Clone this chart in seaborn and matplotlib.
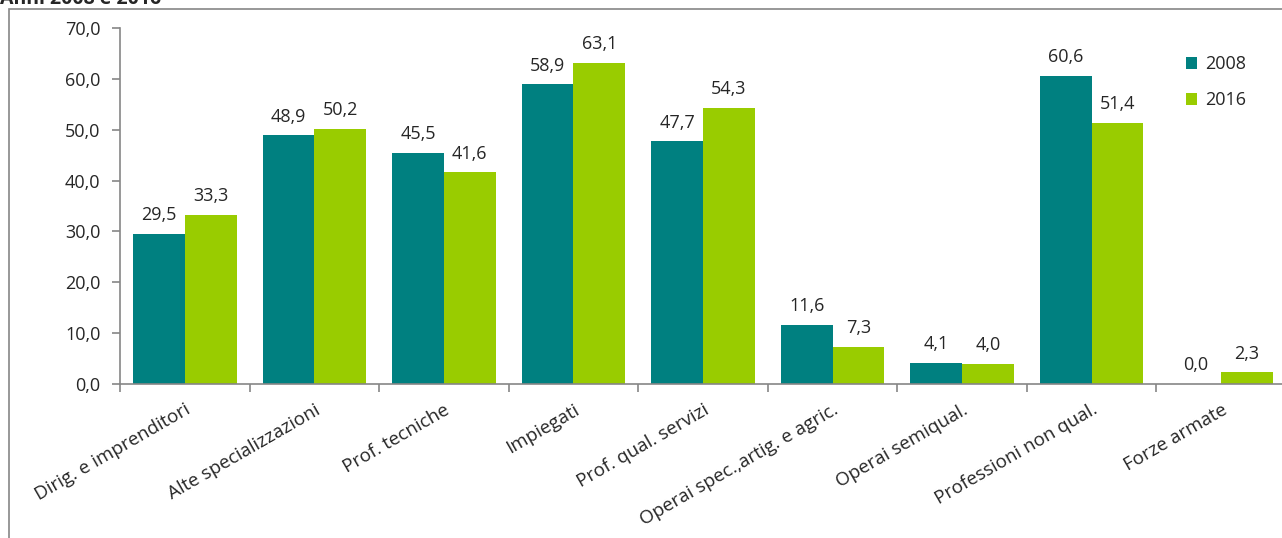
import pandas as pd
import matplotlib.pyplot as plt
import seaborn as sns
from matplotlib.patches import Rectangle

categories = ['Dirig. e imprenditori', 'Alte specializzazioni', 'Prof. tecniche', 'Impiegati',
              'Prof. qual. servizi', 'Operai spec.,artig. e agric.', 'Operai semiqual.',
              'Professioni non qual.', 'Forze armate']
years = ['2008', '2016']
vals_2008 = [29.5, 48.9, 45.5, 58.9, 47.7, 11.6, 4.1, 60.6, 0.0]
vals_2016 = [33.3, 50.2, 41.6, 63.1, 54.3, 7.3, 4.0, 51.4, 2.3]

df = pd.DataFrame({
    'cat': categories * 2,
    'anno': [years[0]] * len(categories) + [years[1]] * len(categories),
    'val': vals_2008 + vals_2016,
})

sns.set_style('white')
plt.rcParams['font.family'] = ['Open Sans', 'DejaVu Sans']

fig = plt.figure(figsize=(12.82, 5.38), dpi=100)
ax = fig.add_axes([120 / 1282, 1 - 384 / 538, 1166 / 1282, 356 / 538])

sns.barplot(data=df, x='cat', y='val', hue='anno', order=categories, hue_order=years,
            palette=['#008080', '#99CC00'], width=0.8, saturation=1, linewidth=0,
            ax=ax, legend=True)

# data labels
for cont in ax.containers:
    ax.bar_label(cont, labels=[f'{v:.1f}'.replace('.', ',') for v in cont.datavalues],
                 padding=7, fontsize=13)

ax.set_ylim(0, 70)
ax.set_xlim(-0.5, 8.5)
ax.set_yticks(range(0, 71, 10))
ax.set_yticklabels([f'{v:.1f}'.replace('.', ',') for v in range(0, 71, 10)], fontsize=13)
ax.set_xticks(range(len(categories)))
ax.set_xticklabels(categories, rotation=30, ha='right', rotation_mode='anchor', fontsize=13.5)
ax.set_xticks([i - 0.5 for i in range(len(categories) + 1)], minor=True)
ax.tick_params(axis='x', which='major', length=0, pad=12)
ax.tick_params(axis='x', which='minor', length=6, color='#868686', width=1.2, bottom=True)
ax.tick_params(axis='y', length=6, color='#868686', width=1.2, left=True, pad=8)
ax.set_xlabel('')
ax.set_ylabel('')
for side in ['top', 'right']:
    ax.spines[side].set_visible(False)
for side in ['left', 'bottom']:
    ax.spines[side].set_color('#868686')
    ax.spines[side].set_linewidth(1.2)

leg = ax.legend(loc='upper left', bbox_to_anchor=(0.9, 0.97), frameon=False, fontsize=13,
                handlelength=0.65, handleheight=0.65, labelspacing=1.0, handletextpad=0.45)

# outer chart frame and title (cut at the top edge, as in the source)
fig.patches.append(Rectangle((9 / 1282, -0.1), 1.2, 1 - 9 / 538 + 0.1, transform=fig.transFigure,
                             fill=False, edgecolor='#868686', linewidth=1.2))
fig.text(0.0, 1 - 4 / 538, 'Anni 2008 e 2016', fontsize=14, fontweight='bold', va='baseline')

fig.savefig('out.png', dpi=100)
